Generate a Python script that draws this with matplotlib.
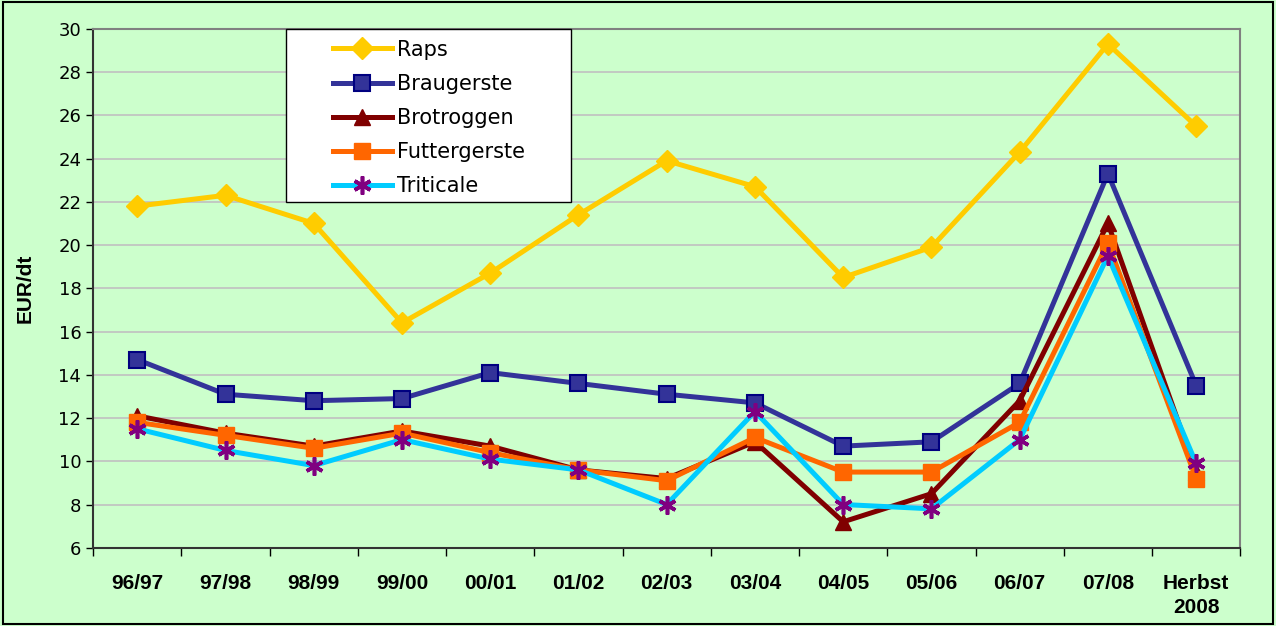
import numpy as np
import matplotlib.pyplot as plt

# categories and series (EUR/dt)
years = ["96/97", "97/98", "98/99", "99/00", "00/01", "01/02", "02/03",
         "03/04", "04/05", "05/06", "06/07", "07/08", "Herbst\n2008"]
raps = [21.8, 22.3, 21.0, 16.4, 18.7, 21.4, 23.9, 22.7, 18.5, 19.9, 24.3, 29.3, 25.5]
braugerste = [14.7, 13.1, 12.8, 12.9, 14.1, 13.6, 13.1, 12.7, 10.7, 10.9, 13.6, 23.3, 13.5]
brotroggen = [12.1, 11.3, 10.7, 11.4, 10.7, 9.6, 9.2, 10.9, 7.2, 8.5, 12.8, 21.0, 9.5]
futtergerste = [11.8, 11.2, 10.6, 11.3, 10.4, 9.6, 9.1, 11.1, 9.5, 9.5, 11.8, 20.1, 9.2]
triticale = [11.5, 10.5, 9.8, 11.0, 10.1, 9.6, 8.0, 12.3, 8.0, 7.8, 11.0, 19.5, 9.9]

bg = "#CCFFCC"
x = np.arange(len(years))

fig = plt.figure(figsize=(12.76, 6.26), dpi=100, facecolor=bg)
ax = fig.add_axes([0.073, 0.125, 0.899, 0.829], facecolor=bg)

lw = 3.6
ms = 11
ax.plot(x, raps, color="#FFCC00", lw=lw, marker="D", ms=ms,
        mfc="#FFCC00", mec="#FFCC00", label="Raps", zorder=3)
ax.plot(x, braugerste, color="#333399", lw=lw, marker="s", ms=ms,
        mfc="#333399", mec="#000080", mew=1.5, label="Braugerste", zorder=3)
ax.plot(x, brotroggen, color="#800000", lw=lw, marker="^", ms=ms + 1,
        mfc="#800000", mec="#800000", label="Brotroggen", zorder=3)
ax.plot(x, futtergerste, color="#FF6600", lw=lw, marker="s", ms=ms,
        mfc="#FF6600", mec="#FF6600", label="Futtergerste", zorder=3)
# triticale: cyan line with purple asterisk markers
ax.plot(x, triticale, color="#00CCFF", lw=lw, marker=(6, 2, 0), ms=13,
        mec="#800080", mew=2.6, label="Triticale", zorder=4)

ax.set_xlim(-0.5, len(years) - 0.5)
ax.set_ylim(6, 30)
ax.set_yticks(np.arange(6, 31, 2))
ax.set_xticks(x)
ax.set_xticklabels(years, fontsize=15, fontweight="bold", linespacing=1.35,
                   family="Liberation Sans")
ax.set_xticks(np.arange(-0.5, len(years), 1), minor=True)
ax.tick_params(axis="x", which="major", length=0, pad=19)
ax.tick_params(axis="x", which="minor", length=6, width=1, direction="out")
ax.tick_params(axis="y", labelsize=13, length=5, width=1)

ax.grid(axis="y", color="#C0C0C0", lw=1.2)
ax.set_axisbelow(True)
for s in ["top", "right"]:
    ax.spines[s].set_color("#808080")
    ax.spines[s].set_linewidth(1.5)
for s in ["left", "bottom"]:
    ax.spines[s].set_color("#333333")
    ax.spines[s].set_linewidth(1.5)

fig.text(25 / 1276, 1 - 288 / 626, "EUR/dt", rotation=90, ha="center",
         va="center", fontsize=15, fontweight="bold", family="Liberation Sans")

# legend box drawn separately so its frame can be wider than its content
ax.add_patch(plt.Rectangle((0.1683, 0.6667), 0.2485, 0.3333,
                           transform=ax.transAxes, facecolor="white",
                           edgecolor="black", lw=1, zorder=5, clip_on=False))
leg = ax.legend(loc="upper left", bbox_to_anchor=(0.2093, 0.979), fontsize=15,
                frameon=False, handlelength=2.8, handletextpad=0.25,
                borderpad=0, labelspacing=0.68, borderaxespad=0)
leg.set_zorder(6)

# black figure border
fig.patches.append(plt.Rectangle((0.002, 0.003), 0.996, 0.994,
                                 transform=fig.transFigure, fill=False,
                                 edgecolor="black", lw=1.5))

fig.savefig("out.png", dpi=100, facecolor=bg)
